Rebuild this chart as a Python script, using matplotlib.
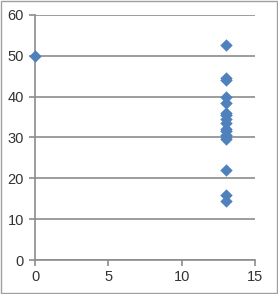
import matplotlib
matplotlib.use("Agg")
import matplotlib.pyplot as plt
from matplotlib.patches import Rectangle

x_vals = [0, 13, 13, 13, 13, 13, 13, 13, 13, 13, 13, 13, 13, 13, 13, 13, 13, 13]
y_vals = [50, 52.5, 44.5, 44, 40, 38.5, 36, 35.5, 34.5, 33.5, 32, 31.5,
          30.5, 30, 29.5, 22, 16, 14.5]
x_ticks = [0, 5, 10, 15]
y_ticks = [0, 10, 20, 30, 40, 50, 60]

plt.rcParams["font.family"] = ["Liberation Sans", "DejaVu Sans"]

fig = plt.figure(figsize=(2.78, 2.94), dpi=100)
ax = fig.add_axes([0.126, 0.1156, 0.791, 0.834])

grey = "#8c8c8c"
ax.scatter(x_vals, y_vals, marker="D", s=40, color="#4F81BD", zorder=3,
           clip_on=False, linewidths=0)

ax.set_xlim(0, 15)
ax.set_ylim(0, 60)
ax.set_xticks(x_ticks)
ax.set_yticks(y_ticks)
ax.grid(axis="y", color=grey, linewidth=1.2)
ax.set_axisbelow(True)

for side in ["top", "right"]:
    ax.spines[side].set_visible(False)
for side in ["left", "bottom"]:
    ax.spines[side].set_color(grey)
    ax.spines[side].set_linewidth(1.2)

ax.tick_params(axis="both", colors=grey, length=4, width=1.2, labelsize=10.5,
               labelcolor="#333333")
ax.tick_params(axis="y", pad=4)

fig.patches.append(Rectangle((0.002, 0.002), 0.995, 0.995, transform=fig.transFigure,
                             fill=False, edgecolor="#a0a0a0", linewidth=1))

fig.savefig("out.png", dpi=100)
